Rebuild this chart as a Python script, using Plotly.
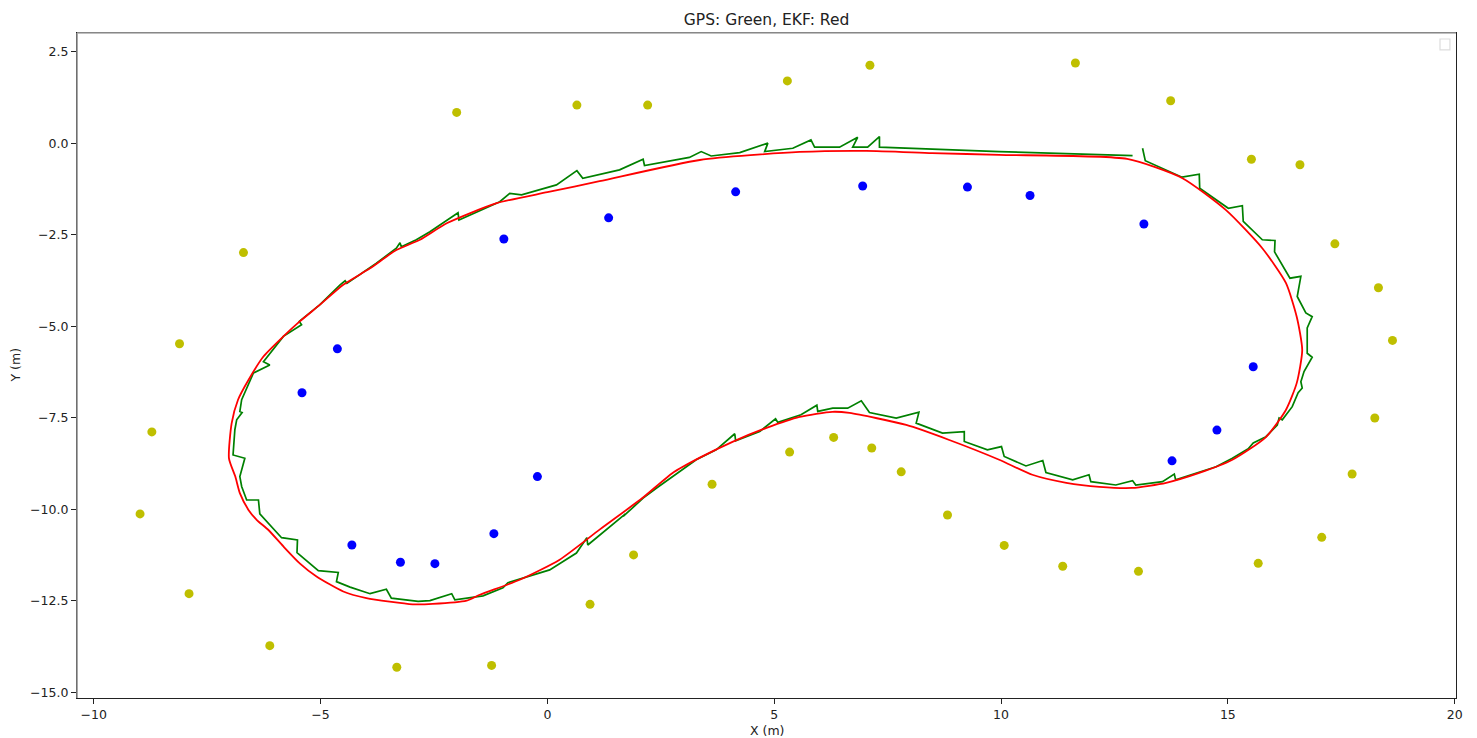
import plotly.graph_objects as go

# Landmarks seen by the vehicle (blue) and the outer ring of landmarks (yellow)
inner_x = [-5.41, -4.63, -4.31, -3.24, -2.48, -1.18, -0.22, -0.96, 1.35, 4.15,
           6.95, 9.26, 10.64, 13.15, 15.56, 14.76, 13.77]
inner_y = [-6.82, -5.62, -10.98, -11.45, -11.49, -10.67, -9.11, -2.62, -2.04, -1.33,
           -1.17, -1.20, -1.43, -2.21, -6.11, -7.84, -8.68]

outer_x = [-2.00, 0.65, 2.21, 5.29, 7.11, 11.64, 13.74, 15.52, 16.59, 17.36,
           18.32, 18.63, 18.24, 17.74, 17.07, 15.67, 13.03, 11.36, 10.07, 8.82,
           7.80, 7.15, 6.31, 5.34, 3.63, 1.90, 0.94, -1.23, -3.32, -6.12,
           -7.90, -8.98, -8.72, -8.11, -6.70]
outer_y = [0.84, 1.04, 1.04, 1.70, 2.13, 2.19, 1.16, -0.44, -0.59, -2.75,
           -3.95, -5.39, -7.51, -9.04, -10.77, -11.48, -11.70, -11.56, -10.99, -10.16,
           -8.98, -8.33, -8.04, -8.44, -9.32, -11.25, -12.60, -14.27, -14.32, -13.73,
           -12.31, -10.13, -7.89, -5.48, -2.99]

# Raw GPS track (green)
gps_x = [13.12, 13.18, 13.99, 14.37, 14.38, 15.01, 15.32, 15.34, 15.76, 16.04,
         16.03, 16.37, 16.61, 16.53, 16.72, 16.86, 16.75, 16.75, 16.86, 16.68,
         16.61, 16.64, 16.55, 16.42, 16.20, 16.13, 16.09, 15.84, 15.56, 15.45,
         15.10, 14.74, 13.85, 13.82, 13.56, 12.97, 12.90, 12.53, 11.98, 11.94,
         11.58, 10.99, 10.92, 10.55, 10.07, 10.01, 9.70, 9.19, 9.19, 8.71,
         8.13, 8.19, 7.69, 7.10, 6.92, 6.62, 6.29, 5.96, 5.94, 5.59,
         5.08, 5.03, 4.68, 4.15, 4.13, 3.72, 3.28, 2.91, 2.40, 2.11,
         1.67, 1.72, 0.89, 0.87, 0.64, 0.05, -0.87, -0.98, -1.42, -2.04,
         -2.11, -2.59, -2.85, -3.44, -3.55, -3.91, -4.35, -4.65, -4.61, -5.05,
         -5.52, -5.51, -5.86, -6.15, -6.34, -6.37, -6.63, -6.74, -6.78, -6.67,
         -6.93, -6.89, -6.85, -6.73, -6.78, -6.74, -6.65, -6.48, -6.12, -6.26,
         -5.82, -5.42, -5.47, -5.02, -4.57, -4.46, -4.42, -3.77, -3.33, -3.25,
         -3.22, -2.89, -2.59, -1.97, -1.95, -1.20, -1.05, -0.83, -0.57, 0.20,
         0.65, 0.78, 1.59, 2.11, 2.14, 3.13, 3.39, 3.61, 4.24, 4.86,
         4.79, 5.41, 5.81, 5.89, 6.44, 6.84, 6.73, 7.06, 7.32, 7.32,
         9.96, 12.90]
gps_y = [-0.14, -0.48, -0.93, -0.85, -1.23, -1.78, -1.71, -2.14, -2.64, -2.66,
         -2.97, -3.69, -3.64, -4.19, -4.64, -4.74, -5.05, -5.74, -5.85, -6.24,
         -6.52, -6.69, -6.82, -7.20, -7.56, -7.51, -7.70, -8.02, -8.19, -8.35,
         -8.61, -8.84, -9.20, -9.04, -9.25, -9.34, -9.22, -9.34, -9.25, -9.06,
         -9.20, -9.00, -8.67, -8.82, -8.56, -8.29, -8.38, -8.15, -7.88, -7.92,
         -7.65, -7.35, -7.51, -7.36, -7.04, -7.24, -7.24, -7.33, -7.16, -7.42,
         -7.63, -7.53, -7.88, -8.13, -7.94, -8.38, -8.65, -8.97, -9.43, -9.70,
         -10.20, -10.13, -10.98, -10.78, -11.20, -11.66, -12.01, -12.15, -12.37, -12.48,
         -12.31, -12.50, -12.52, -12.43, -12.19, -12.31, -12.13, -11.98, -11.73, -11.68,
         -11.19, -10.84, -10.78, -10.38, -10.13, -9.75, -9.75, -9.38, -9.11, -8.61,
         -8.52, -7.83, -7.56, -7.36, -7.33, -7.01, -6.74, -6.28, -6.06, -5.97,
         -5.28, -4.96, -4.87, -4.42, -3.87, -3.76, -3.83, -3.28, -2.87, -2.72,
         -2.83, -2.64, -2.42, -1.90, -2.10, -1.69, -1.60, -1.37, -1.41, -1.14,
         -0.75, -0.96, -0.73, -0.44, -0.61, -0.39, -0.23, -0.35, -0.26, 0.00,
         -0.23, -0.14, 0.09, -0.11, -0.11, 0.16, -0.11, -0.11, 0.18, -0.11,
         -0.23, -0.34]

# Filtered EKF estimate (red)
ekf_x = [12.78, 13.99, 14.96, 15.76, 16.28, 16.52, 16.64, 16.52, 16.28, 15.84,
         15.10, 14.37, 13.64, 12.89, 12.17, 11.44, 10.69, 9.96, 8.86, 7.91,
         6.66, 6.28, 5.56, 4.83, 4.08, 3.35, 2.76, 2.10, 1.15, 0.27,
         -0.61, -1.49, -1.78, -2.53, -2.97, -3.99, -4.50, -5.09, -5.46, -5.82,
         -6.15, -6.41, -6.59, -6.78, -6.88, -7.02, -6.96, -6.82, -6.59, -6.26,
         -5.82, -5.46, -5.02, -4.50, -3.91, -3.33, -2.81, -2.22, -1.12, 0.00,
         1.15, 3.36, 5.56, 7.03, 8.48, 9.96, 12.78]
ekf_y = [-0.43, -0.95, -1.83, -2.87, -3.82, -4.75, -5.65, -6.55, -7.29, -8.03,
         -8.65, -9.01, -9.28, -9.42, -9.39, -9.28, -9.06, -8.65, -8.11, -7.70,
         -7.37, -7.34, -7.48, -7.78, -8.16, -8.60, -9.01, -9.69, -10.56, -11.38,
         -11.93, -12.34, -12.50, -12.59, -12.60, -12.43, -12.25, -11.84, -11.48, -11.02,
         -10.57, -10.29, -10.02, -9.56, -9.11, -8.61, -7.65, -7.01, -6.47, -5.83,
         -5.28, -4.87, -4.42, -3.87, -3.42, -2.92, -2.64, -2.19, -1.64, -1.34,
         -1.04, -0.46, -0.24, -0.21, -0.27, -0.32, -0.43]

x_range = [-10.37, 20.03]
y_range = [-15.16, 3.01]
x_ticks = [-10, -5, 0, 5, 10, 15, 20]
y_ticks = [2.5, 0.0, -2.5, -5.0, -7.5, -10.0, -12.5, -15.0]

fig = go.Figure()
fig.add_trace(go.Scatter(x=outer_x, y=outer_y, mode="markers",
                         marker=dict(color="#bfbf00", size=9), showlegend=False))
fig.add_trace(go.Scatter(x=inner_x, y=inner_y, mode="markers",
                         marker=dict(color="#0000ff", size=9), showlegend=False))
fig.add_trace(go.Scatter(x=gps_x, y=gps_y, mode="lines",
                         line=dict(color="#008000", width=1.7), showlegend=False))
fig.add_trace(go.Scatter(x=ekf_x, y=ekf_y, mode="lines",
                         line=dict(color="#ff0000", width=1.8, shape="spline",
                                   smoothing=0.6),
                         showlegend=False))

axis_font = dict(family="DejaVu Sans", size=12.5, color="#222")
fig.update_xaxes(range=x_range, tickvals=x_ticks, tickformat="d",
                 ticks="outside", ticklen=5, tickcolor="#222", tickfont=axis_font,
                 showgrid=False, zeroline=False,
                 showline=True, linecolor="#222", linewidth=1.3, mirror=True)
fig.update_yaxes(range=y_range, tickvals=y_ticks, tickformat=".1f",
                 ticks="outside", ticklen=5, tickcolor="#222", tickfont=axis_font,
                 showgrid=False, zeroline=False,
                 showline=True, linecolor="#222", linewidth=1.3, mirror=True)

# lighter left and top spines
fig.add_shape(type="line", xref="paper", yref="paper", x0=0, x1=0, y0=0, y1=1,
              line=dict(color="#8a8a8a", width=1.5))
fig.add_shape(type="line", xref="paper", yref="paper", x0=0, x1=1, y0=1, y1=1,
              line=dict(color="#aaaaaa", width=1.5))
# empty legend frame
fig.add_shape(type="rect", xref="paper", yref="paper", x0=0.9884, x1=0.9956,
              y0=0.9745, y1=0.991, line=dict(color="#dddddd", width=1.2),
              fillcolor="white")

fig.update_layout(
    width=1477, height=738,
    margin=dict(l=77, r=21, t=33, b=40),
    paper_bgcolor="white", plot_bgcolor="white",
    showlegend=False,
    title=dict(text="GPS: Green, EKF: Red", x=0.5190, xanchor="center",
               y=0.973, yanchor="middle",
               font=dict(family="DejaVu Sans", size=15.5, color="#222")),
    annotations=[
        dict(text="X (m)", xref="paper", yref="paper", x=0.5, y=0,
             yshift=-32, showarrow=False, yanchor="middle",
             font=dict(family="DejaVu Sans", size=12.5, color="#222")),
        dict(text="Y (m)", xref="paper", yref="paper", x=0, y=0.5,
             xshift=-62, showarrow=False, textangle=-90, xanchor="center",
             font=dict(family="DejaVu Sans", size=12.5, color="#222")),
    ],
)

fig.write_html("out.html")
